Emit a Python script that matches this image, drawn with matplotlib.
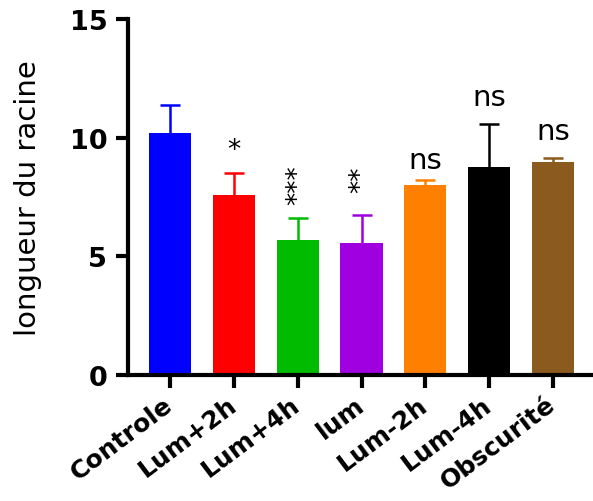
import matplotlib
matplotlib.use("Agg")
import matplotlib.pyplot as plt

categories = ["Controle", "Lum+2h", "Lum+4h", "lum", "Lum-2h", "Lum-4h", "Obscurité"]
means = [10.2, 7.58, 5.68, 5.58, 8.02, 8.78, 8.99]
err_up = [1.2, 0.92, 0.94, 1.17, 0.2, 1.78, 0.17]
colors = ["#0000ff", "#ff0000", "#00bb00", "#a000e0", "#ff8000", "#000000", "#8b5a1e"]
signif = ["", "*", "***", "**", "ns", "ns", "ns"]
signif_y = [0, 9.5, 8.05, 8.27, 9.07, 11.7, 10.3]
yticks = [0, 5, 10, 15]

plt.rcParams['font.family'] = ['DejaVu Sans']

fig = plt.figure(figsize=(5.93, 5.02), dpi=100)
ax = fig.add_axes([0.216, 0.251, 0.784, 0.709])

x = list(range(len(categories)))
ax.bar(x, means, width=0.66, color=colors, zorder=2)
for xi, m, e, c in zip(x, means, err_up, colors):
    _, caps, _ = ax.errorbar(xi, m, yerr=[[0], [e]], fmt='none', ecolor=c, elinewidth=1.8,
                             capsize=7.5, capthick=1.8, zorder=1)
    for cap in caps:
        if abs(cap.get_ydata()[0] - m) < 1e-9:
            cap.set_visible(False)

for xi, s, sy in zip(x, signif, signif_y):
    if not s:
        continue
    if s.startswith("*"):
        ax.text(xi, sy, s, rotation=90 if len(s) > 1 else 0, ha='center', va='center',
                fontsize=19, color='black')
    else:
        ax.text(xi, sy, s, ha='center', va='center', fontsize=21, color='black')

ax.set_xlim(-0.66, 6.63)
ax.set_ylim(0, 15)
ax.set_yticks(yticks)
ax.set_yticklabels([str(t) for t in yticks], fontsize=19.5, fontweight='bold')
ax.set_xticks(x)
ax.set_xticklabels(categories, rotation=37, ha='right', va='center', rotation_mode='anchor',
                   fontsize=18, fontweight='bold')
ax.set_ylabel("longueur du racine", fontsize=21, labelpad=20)

for side in ['top', 'right']:
    ax.spines[side].set_visible(False)
for side in ['left', 'bottom']:
    ax.spines[side].set_linewidth(3)
ax.tick_params(axis='both', width=3, length=9, direction='out')
ax.tick_params(axis='x', pad=10)
ax.tick_params(axis='y', pad=6)

fig.savefig("out.png", dpi=100)
